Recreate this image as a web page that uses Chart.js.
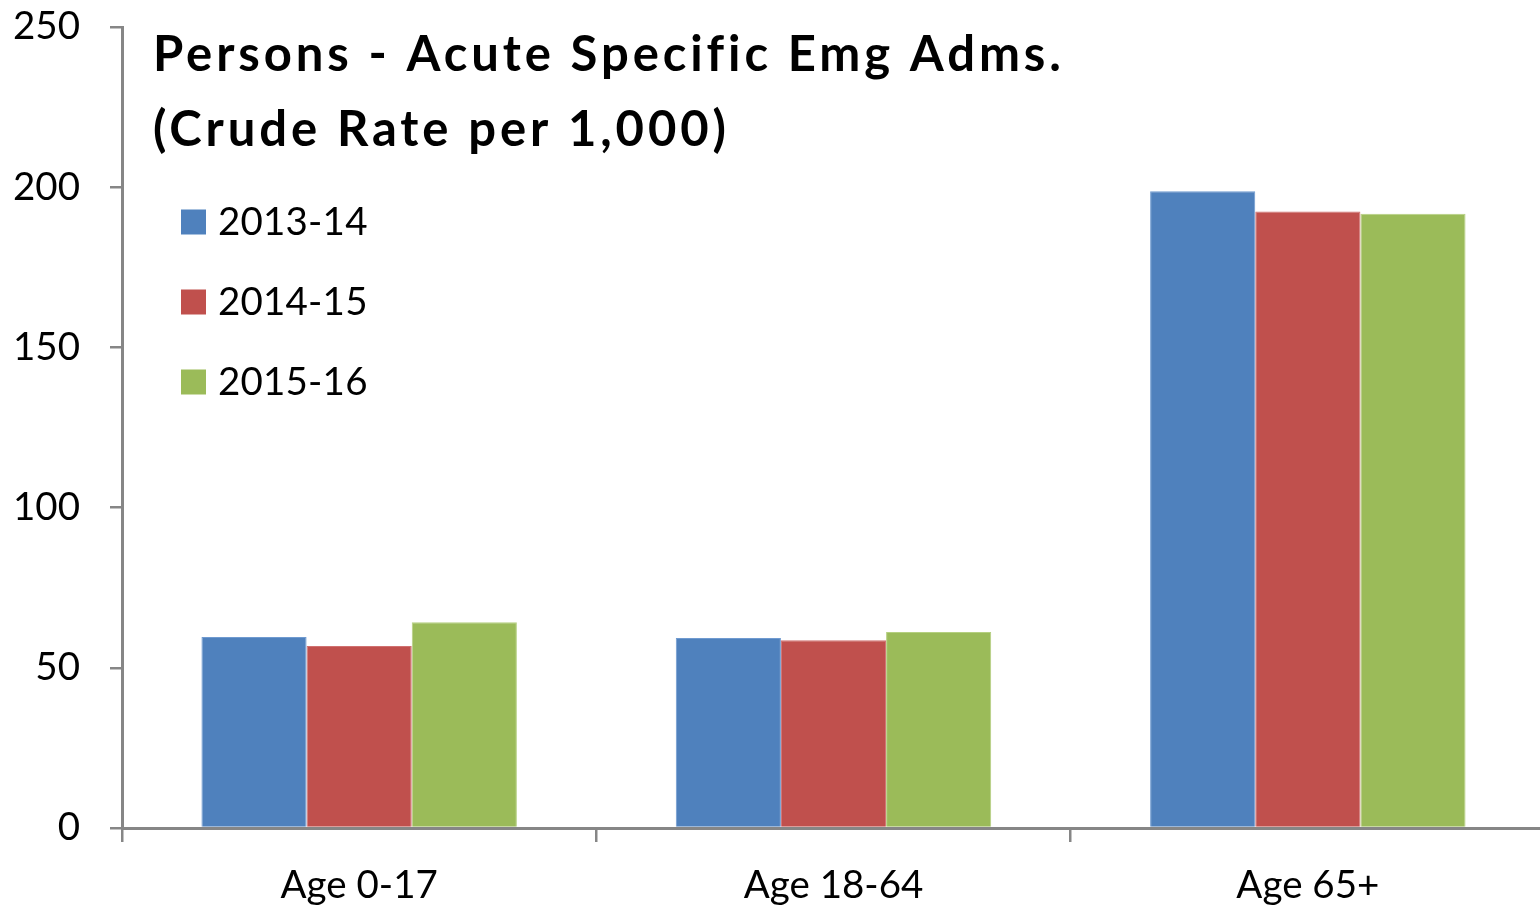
<!DOCTYPE html>
<html>
<head>
<meta charset="utf-8">
<script src="https://cdn.jsdelivr.net/npm/chart.js@4.4.1/dist/chart.umd.min.js"></script>
<style>
html,body{margin:0;padding:0;background:#fff;overflow:hidden;}
#wrap{width:1540px;height:908px;overflow:hidden;}
canvas{display:block;}
</style>
</head>
<body>
<div id="wrap"><canvas id="c" width="1546" height="908"></canvas></div>
<script>
const categories = ["Age 0-17", "Age 18-64", "Age 65+"];
const seriesNames = ["2013-14", "2014-15", "2015-16"];
const values2013 = [59.6, 59.3, 198.7];
const values2014 = [56.8, 58.6, 192.4];
const values2015 = [64.2, 61.2, 191.7];
const yTicks = [0, 50, 100, 150, 200, 250];
const titleLines = ["Persons - Acute Specific Emg Adms.", "(Crude Rate per 1,000)"];
const colors = ["#4F81BD", "#C0504D", "#9BBB59"];
const borders = ["#6F9AD0", "#D07070", "#B5D080"];

const FONT = "Lato, Carlito, Calibri, sans-serif";
const axisColor = "#868686";

const overlay = {
  id: 'overlay',
  afterDraw(chart) {
    const ctx = chart.ctx;
    const a = chart.chartArea;
    ctx.save();
    ctx.fillStyle = '#000';
    ctx.textBaseline = 'alphabetic';
    ctx.textAlign = 'left';
    ctx.font = "bold 49px " + FONT;
    try { ctx.letterSpacing = "3.9px"; } catch (e) {}
    ctx.fillText(titleLines[0], a.left + 31, 71);
    ctx.fillText(titleLines[1], a.left + 31, 146);
    try { ctx.letterSpacing = "0.2px"; } catch (e) {}
    ctx.font = "38.5px " + FONT;
    chart.data.datasets.forEach((ds, i) => {
      const cy = 222 + i * 80;
      ctx.fillStyle = ds.backgroundColor;
      ctx.fillRect(a.left + 59, cy - 12.5, 25, 25);
      ctx.fillStyle = '#000';
      ctx.fillText(ds.label, a.left + 96, cy + 13);
    });
    ctx.restore();
  }
};

new Chart(document.getElementById('c'), {
  type: 'bar',
  data: {
    labels: categories,
    datasets: [values2013, values2014, values2015].map((v, i) => ({
      label: seriesNames[i],
      data: v,
      backgroundColor: colors[i],
      borderColor: borders[i],
      borderWidth: 1,
      categoryPercentage: 0.665,
      barPercentage: 1.0
    }))
  },
  options: {
    responsive: false,
    animation: false,
    devicePixelRatio: 1,
    layout: { padding: { left: 0, right: 1, top: 27, bottom: 0 } },
    plugins: { legend: { display: false }, title: { display: false }, tooltip: { enabled: false } },
    scales: {
      x: {
        grid: { display: true, drawOnChartArea: false, drawTicks: true, tickLength: 14, color: axisColor, lineWidth: 2.5, offset: true },
        border: { display: true, color: axisColor, width: 3 },
        ticks: { color: '#000', font: { family: FONT, size: 38.5 }, padding: 20 },
        afterFit(s) { s.height = 80; s.paddingLeft = 0; s.paddingRight = 0; }
      },
      y: {
        min: 0, max: 250,
        afterBuildTicks(s) { s.ticks = yTicks.map(v => ({ value: v })); },
        grid: { display: true, drawOnChartArea: false, drawTicks: true, tickLength: 12, color: axisColor, lineWidth: 2.5 },
        border: { display: true, color: axisColor, width: 3 },
        ticks: { color: '#000', font: { family: FONT, size: 38.5 }, padding: 30 },
        afterFit(s) { s.width = 122; s.paddingTop = 0; s.paddingBottom = 0; }
      }
    }
  },
  plugins: [overlay]
});
</script>
</body>
</html>
